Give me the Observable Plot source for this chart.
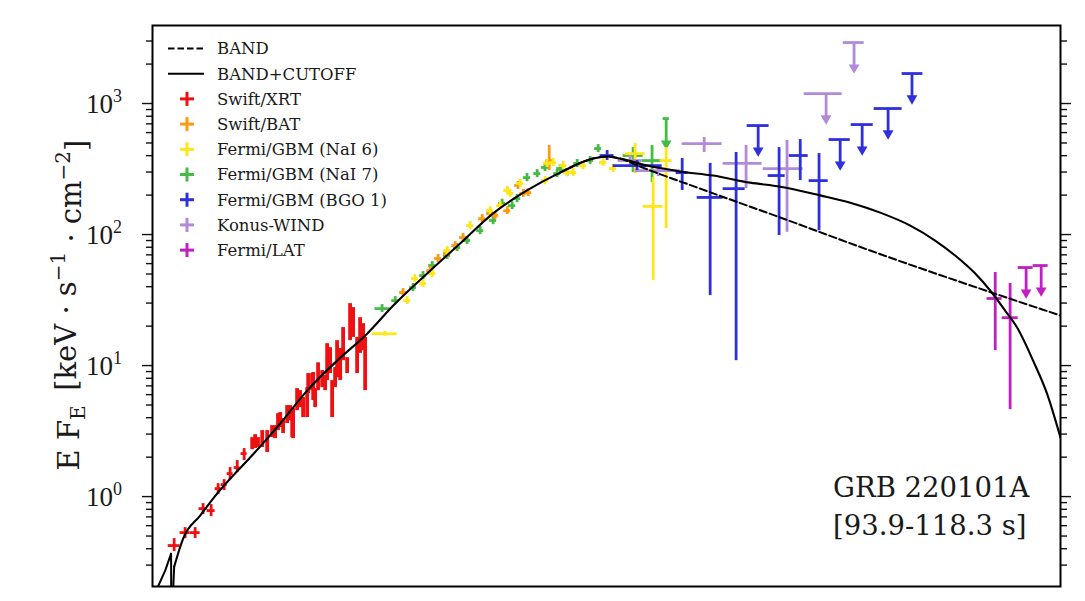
<!DOCTYPE html>
<html><head><meta charset="utf-8">
<script src="https://cdn.jsdelivr.net/npm/d3@7"></script>
<script src="https://cdn.jsdelivr.net/npm/@observablehq/plot@0.6"></script>
<style>body{margin:0;background:#fff}</style>
</head><body><div id="chart"></div>
<script>
// ---- Energy (keV) and E·F_E (keV s^-1 cm^-2) ----
// Swift/XRT, binned points with energy bins
const xrtBinE   = [0.350, 0.422, 0.501, 0.574, 0.659, 0.743, 0.823, 0.912, 1.03, 1.16];
const xrtBinElo = [0.316, 0.387, 0.460, 0.535, 0.615, 0.706, 0.782, 0.867, 0.977, 1.10];
const xrtBinEhi = [0.387, 0.460, 0.546, 0.615, 0.706, 0.782, 0.867, 0.960, 1.08, 1.22];
const xrtBinF   = [0.423, 0.531, 0.531, 0.810, 0.782, 1.151, 1.235, 1.498, 1.665, 2.13];
const xrtBinFlo = [0.380, 0.478, 0.478, 0.729, 0.704, 1.036, 1.111, 1.348, 1.525, 1.883];
const xrtBinFhi = [0.478, 0.580, 0.580, 0.884, 0.869, 1.256, 1.348, 1.665, 1.883, 2.325];
// Swift/XRT, narrow channels
const xrtE   = [1.33,1.40,1.47,1.58,1.72,1.87,1.97,2.07,2.15,2.26,2.42,2.55,2.64,2.68,2.87,3.02,3.18,3.41,3.47,3.71,3.78,3.91,4.11,4.41,4.64,4.80,5.05,5.23,5.50,5.69,6.00,6.31,6.76,7.11,7.49,8.02,8.44,8.89,9.20];
const xrtF   = [2.54,2.63,2.58,2.77,2.67,3.13,3.08,3.74,3.87,3.48,4.23,4.38,3.48,3.61,5.50,5.60,4.78,5.22,7.29,7.55,6.91,5.70,8.24,7.96,7.42,10.7,10.9,5.60,8.09,11.3,10.2,14.7,10.0,21.7,21.3,11.9,22.1,16.7,13.0];
const xrtFhi = [2.82,2.97,2.82,3.19,3.19,3.48,3.48,4.30,4.38,3.94,4.95,4.95,4.15,4.70,6.67,6.44,5.70,6.79,8.69,8.69,8.85,6.67,10.5,9.16,8.39,14.7,13.7,7.68,9.66,15.5,13.5,19.5,11.5,29.7,27.7,16.4,23.2,20.9,16.4];
const xrtFlo = [2.28,2.33,2.37,2.37,2.17,2.82,2.77,3.19,3.36,3.03,3.61,3.80,2.82,2.77,4.53,4.78,4.01,4.01,6.11,6.44,5.41,4.78,6.44,6.79,6.44,7.68,8.69,4.01,6.79,8.09,7.68,10.9,8.69,15.5,16.4,8.69,12.4,13.0,6.44];
// Swift/BAT
const batE   = [17.6, 28.0, 32.1, 37.4, 43.0, 49.2, 68.2, 78.2, 85.2, 105, 126, 138, 150, 215];
const batElo = [16.6, 26.4, 30.2, 35.2, 40.5, 46.3, 64.2, 73.6, 80.2, 98.6, 119, 130, 141, 202];
const batEhi = [18.7, 29.7, 34.1, 39.7, 45.7, 52.3, 72.4, 83.0, 90.5, 111, 134, 146, 159, 228];
const batF   = [36.1, 53.1, 65.6, 71.6, 82.4, 94.9, 132, 145, 140, 152, 237, 206, 209, 367];
const batFlo = [33.6, 49.5, 61.1, 66.7, 76.8, 88.4, 123, 135, 130, 142, 221, 192, 195, 308];
const batFhi = [38.7, 57.0, 70.4, 76.8, 88.4, 102, 142, 156, 150, 163, 254, 221, 224, 478];
// Fermi/GBM NaI 6
const n6E   = [12.9, 18.9, 21.6, 24.8, 29.0, 37.4, 55.5, 78.2, 92.8, 105, 110, 131, 200, 207, 230, 273, 292, 324, 384, 541, 642, 935, 1274, 1592];
const n6Elo = [10.4, 17.8, 20.3, 23.4, 27.3, 35.2, 52.3, 73.6, 87.4, 98.6, 104, 123, 188, 195, 217, 257, 275, 305, 362, 509, 604, 789, 1074, 1437];
const n6Ehi = [15.9, 20.1, 22.9, 26.3, 30.8, 39.7, 58.9, 83.0, 98.6, 111, 117, 139, 212, 220, 244, 290, 310, 344, 408, 575, 682, 1110, 1511, 1763];
const n6F   = [17.5, 31.3, 46.1, 42.3, 50.4, 75.5, 117, 152, 166, 217, 206, 245, 258, 349, 355, 336, 297, 297, 336, 355, 319, 415, 164, 367];
const n6Flo = [16.8, 29.2, 43.0, 39.4, 47.0, 70.4, 109, 142, 155, 202, 192, 228, 240, 325, 331, 313, 277, 277, 313, 331, 297, 292, 44.5, 111];
const n6Fhi = [18.2, 33.6, 49.5, 45.4, 54.1, 81.0, 126, 163, 178, 233, 221, 263, 277, 374, 381, 361, 319, 319, 361, 381, 342, 495, 272, 461];
// Fermi/GBM NaI 7
const n7E   = [12.3, 15.4, 20.9, 24.8, 29.0, 37.4, 44.4, 52.7, 65.9, 82.3, 96.0, 114, 124, 147, 175, 200, 246, 259, 292, 347, 433, 497, 904, 1250];
const n7Elo = [10.9, 14.5, 19.7, 23.4, 27.3, 35.2, 41.8, 49.6, 62.1, 77.5, 90.4, 107, 117, 138, 165, 188, 232, 244, 275, 327, 408, 468, 762, 1055];
const n7Ehi = [14.1, 16.4, 22.2, 26.3, 30.8, 39.7, 47.2, 56.0, 70.0, 87.4, 102, 121, 132, 156, 186, 212, 261, 275, 310, 369, 460, 528, 1074, 1486];
const n7F   = [27.2, 31.3, 39.4, 48.6, 58.0, 69.2, 79.6, 90.0, 107, 128, 173, 166, 188, 272, 292, 325, 292, 319, 297, 349, 367, 453, 401, 367];
const n7Flo = [25.4, 29.2, 36.7, 45.3, 54.1, 64.5, 74.2, 83.9, 99.7, 119, 161, 155, 175, 253, 272, 303, 272, 297, 277, 325, 342, 422, 297, 249];
const n7Fhi = [29.2, 33.6, 42.3, 52.1, 62.2, 74.3, 85.4, 96.6, 115, 137, 186, 178, 202, 292, 313, 349, 313, 342, 319, 374, 394, 486, 461, 478];
const n7UlE = [1592], n7UlElo = [1510], n7UlEhi = [1680], n7UlF = [768];
// Fermi/GBM BGO 1
const bgoE   = [579, 968, 2094, 3380, 5270, 11000, 15800, 21800];
const bgoElo = [514, 642, 1888, 2705, 4220, 9120, 13100, 18400];
const bgoEhi = [653, 1486, 2318, 4220, 6150, 12200, 18100, 25500];
const bgoF   = [401, 336, 297, 192, 224, 282, 401, 258];
const bgoFlo = [367, 308, 217, 34.2, 10.9, 98.3, 258, 107];
const bgoFhi = [438, 367, 380, 349, 423, 461, 531, 415];
const bgoUlE   = [7690, 31300, 45600, 71100, 107000];
const bgoUlElo = [6370, 25900, 37800, 56000, 90400];
const bgoUlEhi = [9270, 37200, 55100, 90400, 129000];
const bgoUlF   = [679, 531, 691, 916, 1694];
// Konus-WIND
const kwE   = [859, 1387, 3050, 6250, 12600];
const kwElo = [700, 935, 2094, 4220, 8380];
const kwEhi = [1055, 2023, 4150, 8230, 16600];
const kwF   = [367, 308, 495, 349, 319];
const kwFlo = [330, 277, 423, 224, 104];
const kwFhi = [401, 336, 550, 478, 522];
const kwUlE = [24600, 39700], kwUlElo = [16900, 33000], kwUlEhi = [32400, 47200], kwUlF = [1192, 2920];
// Fermi/LAT
const latE = [445000, 574000], latElo = [387000, 501000], latEhi = [501000, 659000];
const latF = [32.5, 23.2], latFlo = [13.0, 4.61], latFhi = [51.3, 42.3];
const latUlE = [755000, 977000], latUlElo = [659000, 851000], latUlEhi = [851000, 1100000], latUlF = [56.0, 58.0];
// Model curves
const cutLowE = [0.262, 0.300, 0.332, 0.333, 0.337, 0.350];
const cutLowF = [0.200, 0.272, 0.367, 0.120, 0.120, 0.292];
const cutE = [0.350,0.408,0.546,0.730,0.960,1.285,1.72,2.15,3.41,5.69,9.52,14.9,26.6,46.8,82.3,147,259,456,579,724,1148,2023,3560,6700,11200,22200,37200,62100,104000,159000,224000,316000,408000,527000,647000,851000,1080000,1360000];
const cutF = [0.292,0.478,0.716,1.054,1.446,1.985,2.77,3.61,6.44,10.9,17.5,28.7,50.4,85.4,145,217,297,380,394,380,336,303,282,249,232,199,175,147,117,90.0,69.2,50.4,37.4,26.3,19.5,10.9,6.11,2.82];
const bandE = [259, 456, 579, 724, 1019, 2850, 11200, 52300, 1360000];
const bandF = [297, 380, 394, 380, 330, 224, 135, 75.5, 24.1];
// Text
const yTicks = [1, 10, 100, 1000];
const yTickExp = ["0", "1", "2", "3"];
const legendNames = ["BAND", "BAND+CUTOFF", "Swift/XRT", "Swift/BAT", "Fermi/GBM (NaI 6)", "Fermi/GBM (NaI 7)", "Fermi/GBM (BGO 1)", "Konus-WIND", "Fermi/LAT"];
const legendColors = [null, null, "#ee1111", "#ff9a0f", "#ffe619", "#44bb44", "#2f2fdd", "#b28ad9", "#c21fc2"];
const annotation = ["GRB 220101A", "[93.9-118.3 s]"];

// ---- build ----
const SERIF = "'DejaVu Serif', serif";
const rows = (E, Elo, Ehi, F, Flo, Fhi) => E.map((e, i) => ({E: e, Elo: Elo ? Elo[i] : e, Ehi: Ehi ? Ehi[i] : e, F: F[i], Flo: Flo ? Flo[i] : F[i], Fhi: Fhi ? Fhi[i] : F[i]}));
const C = Object.fromEntries(legendNames.map((n, i) => [n, legendColors[i]]));
const SW = 2.8;
function bars(data, color) {
  return [
    Plot.ruleX(data, {x: "E", y1: "Flo", y2: "Fhi", stroke: color, strokeWidth: SW}),
    Plot.ruleY(data, {y: "F", x1: "Elo", x2: "Ehi", stroke: color, strokeWidth: SW})
  ];
}
function limits(data, color) {
  return [
    Plot.ruleY(data, {y: "F", x1: "Elo", x2: "Ehi", stroke: color, strokeWidth: SW}),
    Plot.ruleX(data, {x: "E", y1: "F", y2: d => d.F * 0.645, stroke: color, strokeWidth: SW}),
    Plot.dot(data, {x: "E", y: d => d.F * 0.645, symbol: "triangle", r: 4, fill: color, stroke: "none", rotate: 180})
  ];
}
const minorTicks = [];
for (let p = -1; p <= 3; p++) for (let m = 2; m <= 9; m++) { const v = m * 10 ** p; if (v > 0.206 && v < 3940) minorTicks.push(v); }
const pts = (E, F) => E.map((e, i) => ({E: e, F: F[i]}));

const plot = Plot.plot({
  width: 1085, height: 601,
  marginLeft: 152, marginRight: 25, marginTop: 25, marginBottom: 15,
  style: {fontFamily: SERIF, background: "#fff", color: "#111"},
  x: {type: "log", domain: [0.2415, 1.36e6], axis: null},
  y: {type: "log", domain: [0.206, 3940], axis: null},
  marks: [
    Plot.axisY(minorTicks, {anchor: "left", tickSize: 6, tickFormat: () => "", strokeWidth: 1.4, label: null}),
    Plot.axisY(yTicks, {anchor: "left", tickSize: 10, tickFormat: () => "", strokeWidth: 1.4, label: null}),
    Plot.axisY(minorTicks, {anchor: "right", tickSize: 6, tickFormat: () => "", strokeWidth: 1.4, label: null}),
    Plot.axisY(yTicks, {anchor: "right", tickSize: 10, tickFormat: () => "", strokeWidth: 1.4, label: null}),
    ...bars(rows(xrtBinE, xrtBinElo, xrtBinEhi, xrtBinF, xrtBinFlo, xrtBinFhi), C["Swift/XRT"]),
    Plot.ruleX(rows(xrtE, null, null, xrtF, xrtFlo, xrtFhi), {x: "E", y1: "Flo", y2: "Fhi", stroke: C["Swift/XRT"], strokeWidth: 3.8}),
    ...bars(rows(n7E, n7Elo, n7Ehi, n7F, n7Flo, n7Fhi), C["Fermi/GBM (NaI 7)"]),
    ...limits(rows(n7UlE, n7UlElo, n7UlEhi, n7UlF), C["Fermi/GBM (NaI 7)"]),
    ...bars(rows(batE, batElo, batEhi, batF, batFlo, batFhi), C["Swift/BAT"]),
    ...bars(rows(n6E, n6Elo, n6Ehi, n6F, n6Flo, n6Fhi), C["Fermi/GBM (NaI 6)"]),
    ...bars(rows(kwE, kwElo, kwEhi, kwF, kwFlo, kwFhi), C["Konus-WIND"]),
    ...limits(rows(kwUlE, kwUlElo, kwUlEhi, kwUlF), C["Konus-WIND"]),
    ...bars(rows(bgoE, bgoElo, bgoEhi, bgoF, bgoFlo, bgoFhi), C["Fermi/GBM (BGO 1)"]),
    ...limits(rows(bgoUlE, bgoUlElo, bgoUlEhi, bgoUlF), C["Fermi/GBM (BGO 1)"]),
    ...bars(rows(latE, latElo, latEhi, latF, latFlo, latFhi), C["Fermi/LAT"]),
    ...limits(rows(latUlE, latUlElo, latUlEhi, latUlF), C["Fermi/LAT"]),
    Plot.line(pts(bandE, bandF), {x: "E", y: "F", stroke: "#000", strokeWidth: 2, strokeDasharray: "7.4,3.2", curve: "monotone-x", clip: true}),
    Plot.line(pts(cutLowE, cutLowF), {x: "E", y: "F", stroke: "#000", strokeWidth: 2, curve: "linear", clip: true}),
    Plot.line(pts(cutE, cutF), {x: "E", y: "F", stroke: "#000", strokeWidth: 2.1, curve: "monotone-x", clip: true}),
    Plot.frame({stroke: "#000", strokeWidth: 2})
  ]
});

const svg = d3.select(plot);
const ys = plot.scale("y");
// tick labels
yTicks.forEach((v, i) => {
  const t = svg.append("text").attr("x", 122).attr("y", ys.apply(v)).attr("dy", "0.36em")
    .attr("text-anchor", "end").style("font-family", "'Liberation Serif', serif").style("font-size", "27px").attr("fill", "#1a1a1a");
  t.append("tspan").text("10");
  t.append("tspan").style("font-size", "18px").attr("dy", "-0.62em").text(yTickExp[i]);
});
// y label
const yl = svg.append("text").attr("transform", "translate(79,305) rotate(-90)").attr("text-anchor", "middle")
  .style("font-family", SERIF).style("font-size", "29px").attr("fill", "#1a1a1a");
yl.append("tspan").text("E F");
yl.append("tspan").style("font-size", "20px").attr("dy", "0.3em").text("E");
yl.append("tspan").attr("dy", "-0.3em").text("\u2002[keV \u00b7 s");
yl.append("tspan").style("font-size", "20px").attr("dy", "-0.55em").text("\u22121");
yl.append("tspan").attr("dy", "0.55em").text(" \u00b7 cm");
yl.append("tspan").style("font-size", "20px").attr("dy", "-0.55em").text("\u22122");
yl.append("tspan").attr("dy", "0.55em").text("]");
// legend
const lg = svg.append("g");
legendNames.forEach((name, i) => {
  const y = 48.5 + i * 25.2;
  if (i === 0) lg.append("line").attr("x1", 168).attr("x2", 204).attr("y1", y).attr("y2", y).attr("stroke", "#000").attr("stroke-width", 1.8).attr("stroke-dasharray", "6.5,3");
  else if (i === 1) lg.append("line").attr("x1", 168).attr("x2", 204).attr("y1", y).attr("y2", y).attr("stroke", "#000").attr("stroke-width", 2);
  else {
    lg.append("line").attr("x1", 180).attr("x2", 194).attr("y1", y).attr("y2", y).attr("stroke", legendColors[i]).attr("stroke-width", 3);
    lg.append("line").attr("x1", 187).attr("x2", 187).attr("y1", y - 7).attr("y2", y + 7).attr("stroke", legendColors[i]).attr("stroke-width", 3);
  }
  lg.append("text").attr("x", 217).attr("y", y).attr("dy", "0.36em").attr("text-anchor", "start")
    .style("font-family", SERIF).style("font-size", "16.5px").attr("fill", "#1a1a1a").text(name);
});
// annotation
annotation.forEach((s, i) => {
  svg.append("text").attr("x", 833).attr("y", 497 + i * 38).attr("text-anchor", "start")
    .style("font-family", SERIF).style("font-size", "27.5px").attr("fill", "#1a1a1a").text(s);
});
document.getElementById("chart").appendChild(plot);
</script></body></html>
